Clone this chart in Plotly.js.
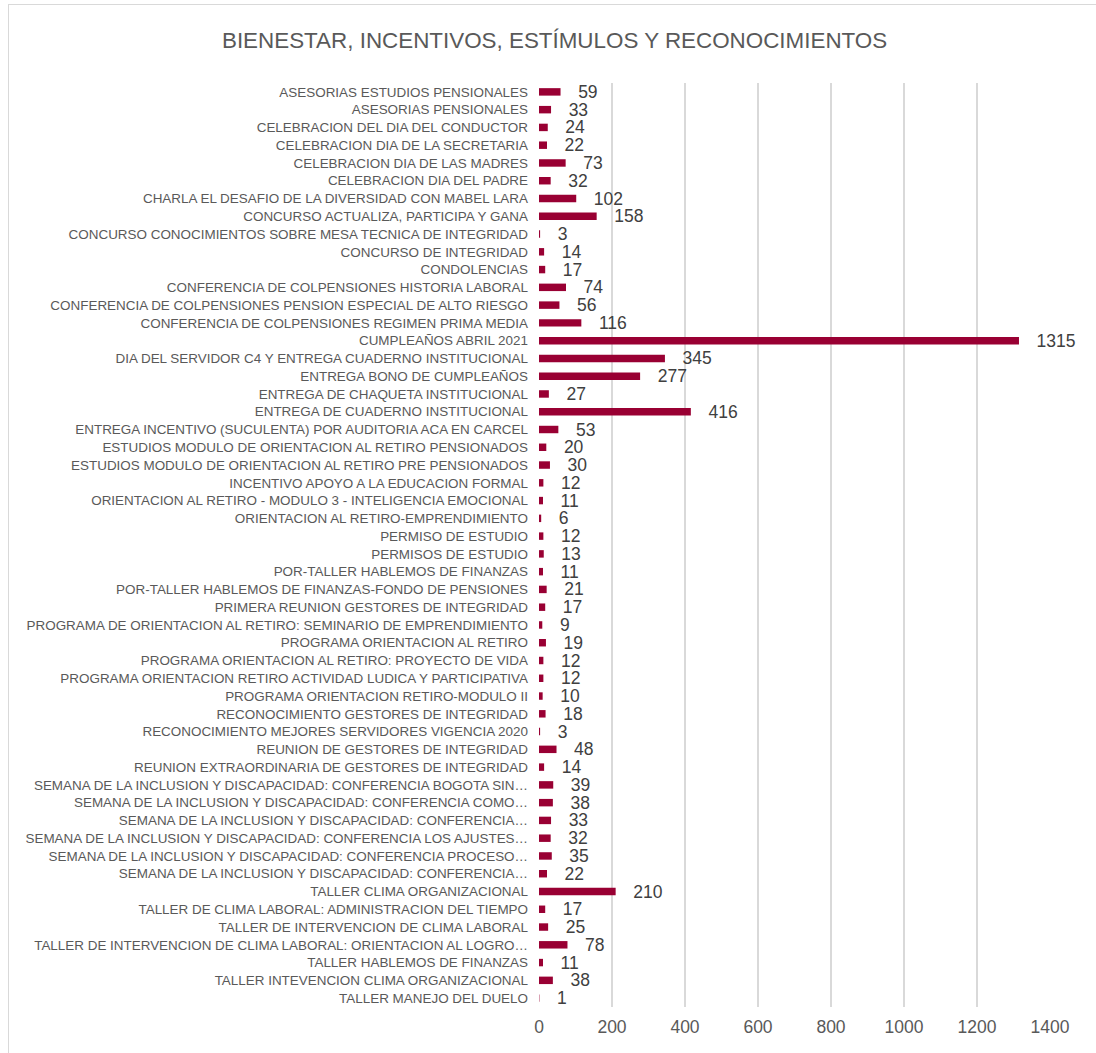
<!DOCTYPE html>
<html>
<head>
<meta charset="utf-8">
<script src="https://cdn.plot.ly/plotly-3.0.1.min.js"></script>
<style>
html,body{margin:0;padding:0;background:#fff;}
#frame{position:absolute;left:8px;top:4px;width:1100px;height:1060px;border:1px solid #d9d9d9;box-sizing:border-box;}
#chart{position:absolute;left:0;top:0;width:1096px;height:1053px;}
</style>
</head>
<body>
<div id="frame"></div>
<div id="chart"></div>
<script>
const categories = [
"ASESORIAS ESTUDIOS PENSIONALES",
"ASESORIAS PENSIONALES",
"CELEBRACION DEL DIA DEL CONDUCTOR",
"CELEBRACION DIA DE LA SECRETARIA",
"CELEBRACION DIA DE LAS MADRES",
"CELEBRACION DIA DEL PADRE",
"CHARLA EL DESAFIO DE LA DIVERSIDAD CON MABEL LARA",
"CONCURSO ACTUALIZA, PARTICIPA Y GANA",
"CONCURSO CONOCIMIENTOS SOBRE MESA TECNICA DE INTEGRIDAD",
"CONCURSO DE INTEGRIDAD",
"CONDOLENCIAS",
"CONFERENCIA DE COLPENSIONES HISTORIA LABORAL",
"CONFERENCIA DE COLPENSIONES PENSION ESPECIAL DE ALTO RIESGO",
"CONFERENCIA DE COLPENSIONES REGIMEN PRIMA MEDIA",
"CUMPLEAÑOS ABRIL 2021",
"DIA DEL SERVIDOR C4 Y ENTREGA CUADERNO INSTITUCIONAL",
"ENTREGA BONO DE CUMPLEAÑOS",
"ENTREGA DE CHAQUETA INSTITUCIONAL",
"ENTREGA DE CUADERNO INSTITUCIONAL",
"ENTREGA INCENTIVO (SUCULENTA) POR AUDITORIA ACA EN CARCEL",
"ESTUDIOS MODULO DE ORIENTACION AL RETIRO PENSIONADOS",
"ESTUDIOS MODULO DE ORIENTACION AL RETIRO PRE PENSIONADOS",
"INCENTIVO APOYO A LA EDUCACION FORMAL",
"ORIENTACION AL RETIRO - MODULO 3 - INTELIGENCIA EMOCIONAL",
"ORIENTACION AL RETIRO-EMPRENDIMIENTO",
"PERMISO DE ESTUDIO",
"PERMISOS DE ESTUDIO",
"POR-TALLER HABLEMOS DE FINANZAS",
"POR-TALLER HABLEMOS DE FINANZAS-FONDO DE PENSIONES",
"PRIMERA REUNION GESTORES DE INTEGRIDAD",
"PROGRAMA DE ORIENTACION AL RETIRO: SEMINARIO DE EMPRENDIMIENTO",
"PROGRAMA ORIENTACION AL RETIRO",
"PROGRAMA ORIENTACION AL RETIRO: PROYECTO DE VIDA",
"PROGRAMA ORIENTACION RETIRO ACTIVIDAD LUDICA Y PARTICIPATIVA",
"PROGRAMA ORIENTACION RETIRO-MODULO II",
"RECONOCIMIENTO GESTORES DE INTEGRIDAD",
"RECONOCIMIENTO MEJORES SERVIDORES VIGENCIA 2020",
"REUNION DE GESTORES DE INTEGRIDAD",
"REUNION EXTRAORDINARIA DE GESTORES DE INTEGRIDAD",
"SEMANA DE LA INCLUSION Y DISCAPACIDAD: CONFERENCIA BOGOTA SIN…",
"SEMANA DE LA INCLUSION Y DISCAPACIDAD: CONFERENCIA COMO…",
"SEMANA DE LA INCLUSION Y DISCAPACIDAD: CONFERENCIA…",
"SEMANA DE LA INCLUSION Y DISCAPACIDAD: CONFERENCIA LOS AJUSTES…",
"SEMANA DE LA INCLUSION Y DISCAPACIDAD: CONFERENCIA PROCESO…",
"SEMANA DE LA INCLUSION Y DISCAPACIDAD: CONFERENCIA…",
"TALLER CLIMA ORGANIZACIONAL",
"TALLER DE CLIMA LABORAL: ADMINISTRACION DEL TIEMPO",
"TALLER DE INTERVENCION DE CLIMA LABORAL",
"TALLER DE INTERVENCION DE CLIMA LABORAL: ORIENTACION AL LOGRO…",
"TALLER HABLEMOS DE FINANZAS",
"TALLER INTEVENCION CLIMA ORGANIZACIONAL",
"TALLER MANEJO DEL DUELO"
];
const values = [59,33,24,22,73,32,102,158,3,14,17,74,56,116,1315,345,277,27,416,53,20,30,12,11,6,12,13,11,21,17,9,19,12,12,10,18,3,48,14,39,38,33,32,35,22,210,17,25,78,11,38,1];
const xTicks = [0,200,400,600,800,1000,1200,1400];

const pos = categories.map((c,i)=>i);
const pad = '\u00a0\u00a0\u00a0';

const trace = {
  type:'bar', orientation:'h',
  x: values, y: pos,
  width: 0.42,
  marker:{color:'#990033'},
  text: values.map(v=>pad+v),
  textposition:'outside',
  constraintext:'none',
  cliponaxis:false,
  textfont:{family:'Liberation Sans, Arial, sans-serif', size:17.5, color:'#404040'},
  hoverinfo:'x+y'
};

const layout = {
  width:1096, height:1053,
  paper_bgcolor:'rgba(0,0,0,0)', plot_bgcolor:'rgba(0,0,0,0)',
  margin:{l:539, r:46, t:83, b:46},
  title:{text:'BIENESTAR, INCENTIVOS, ESTÍMULOS Y RECONOCIMIENTOS',
         font:{family:'Liberation Sans, Arial, sans-serif', size:22.4, color:'#595959'},
         x:0.506, xanchor:'center', y:0.962, yanchor:'middle', yref:'container'},
  showlegend:false,
  uniformtext:{mode:false},
  xaxis:{range:[0,1400], tickvals:xTicks, ticktext:xTicks.map(String),
         showgrid:true, gridcolor:'#d9d9d9', gridwidth:1.3, zeroline:false,
         showline:false, ticks:'', ticklabelstandoff:7,
         tickfont:{family:'Liberation Sans, Arial, sans-serif', size:17.5, color:'#595959'}},
  yaxis:{range:[categories.length-0.5,-0.5], tickvals:pos, ticktext:categories,
         showgrid:false, zeroline:false, showline:false, ticks:'', ticklabelstandoff:10,
         tickfont:{family:'Liberation Sans, Arial, sans-serif', size:13.45, color:'#595959'}},
  bargap:0.58
};

Plotly.newPlot('chart',[trace],layout,{displayModeBar:false, staticPlot:true});
</script>
</body>
</html>
